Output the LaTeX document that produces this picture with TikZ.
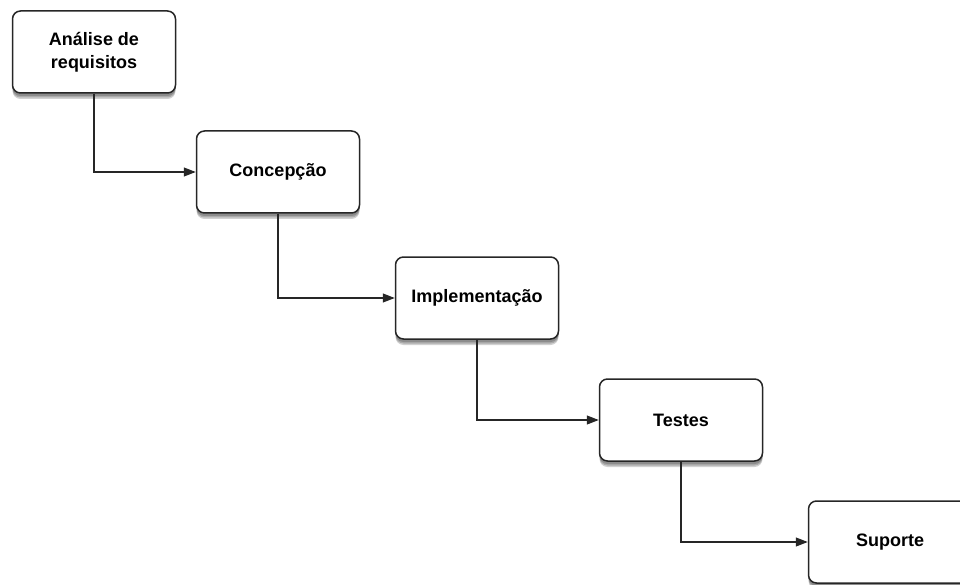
\documentclass[tikz,border=0pt]{standalone}
\usepackage{fontspec}
\setmainfont{Liberation Sans}
\usetikzlibrary{shadows,arrows.meta}

\tikzset{
    sombra/.style={drop shadow={shadow xshift=0pt, shadow yshift=-#1, opacity=0.18, fill=black}},
    etapa/.style={draw=black!85, line width=1.5pt, fill=white, rounded corners=8pt,
        minimum width=163pt, minimum height=82pt, align=center,
        font=\fontsize{18}{23}\selectfont\bfseries,
        sombra=6pt, sombra=4.5pt, sombra=3pt},
    seta/.style={line width=1.2pt, draw=black!85, -{Triangle[length=12pt,width=9pt]}}
}

\begin{document}
\begin{tikzpicture}[x=1pt,y=-1pt]
    % Fix the frame
    \useasboundingbox (0,0) rectangle (960,585);
    % Draw the stages
    \node[etapa] (analise) at (94,52) {Análise de\\requisitos};
    \node[etapa] (concepcao) at (278,172) {Concepção};
    \node[etapa] (implementacao) at (477,298) {Implementação};
    \node[etapa] (testes) at (681,420) {Testes};
    \node[etapa] (suporte) at (890,542) {Suporte};
    % Draw the connectors
    \draw[seta] (analise.south) |- (concepcao.west);
    \draw[seta] (concepcao.south) |- (implementacao.west);
    \draw[seta] (implementacao.south) |- (testes.west);
    \draw[seta] (testes.south) |- (suporte.west);
\end{tikzpicture}
\end{document}
